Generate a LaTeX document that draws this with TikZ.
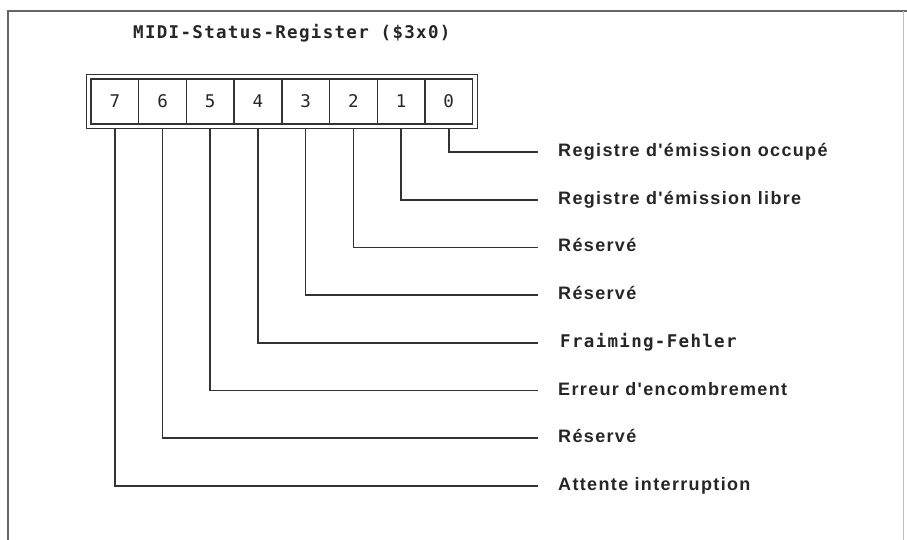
\documentclass[tikz,border=0pt]{standalone}
\usepackage{fontspec}
\usetikzlibrary{fit}
\setmainfont{Liberation Sans}
\newfontfamily\labelfont{Liberation Sans}[LetterSpace=7.5]
\newfontfamily\dosfont{DejaVu Sans Mono}[LetterSpace=7.5]

\tikzset{
  wire/.style={line width=1.6pt, draw=black!80},
  bitcell/.style={draw=black!80, line width=1.4pt, minimum width=47.7pt,
    minimum height=45pt, inner sep=0pt, text=black!85,
    font=\dosfont\fontsize{17.5}{17.5}\selectfont},
  regframe/.style={draw=black!80, line width=1.4pt, inner sep=4pt},
  bitlabel/.style={anchor=west, inner sep=0pt, text height=12pt, text depth=3pt,
    font=\labelfont\bfseries\fontsize{18}{18}\selectfont, text=black!85},
  monolabel/.style={bitlabel, font=\dosfont\bfseries\fontsize{17.5}{17.5}\selectfont},
  titletext/.style={anchor=base west, inner sep=0pt, text=black!85,
    font=\dosfont\bfseries\fontsize{17.5}{17.5}\selectfont},
  pageframe/.style={draw=black!60, line width=1.4pt},
}

\begin{document}
\begin{tikzpicture}[x=1pt, y=-1pt]
  \useasboundingbox[fill=white] (0,0) rectangle (907,539);

  % page frame (open at the bottom)
  \draw[pageframe] (8,545) -- (8,11) -- (912,11);
  \draw[draw=black!25, line width=1pt] (903,11) -- (903,545);

  % title
  \node[titletext] (title) at (133,38) {MIDI-Status-Register (\$3x0)};

  % the eight bit cells, bit 7 on the left
  \foreach \i in {0,...,7} {
    \node[bitcell] (c\i) at ({114.85+47.7*(7-\i)},101.5) {\i};
  }
  \node[regframe, fit=(c7)(c0)] (reg) {};

  % bit descriptions
  \node[bitlabel]  (l0) at (558,152)   {Registre d'émission occupé};
  \node[bitlabel]  (l1) at (558,199.7) {Registre d'émission libre};
  \node[bitlabel]  (l2) at (558,247.4) {Réservé};
  \node[bitlabel]  (l3) at (558,295.1) {Réservé};
  \node[monolabel] (l4) at (560,342.8) {Fraiming-Fehler};
  \node[bitlabel]  (l5) at (558,390.5) {Erreur d'encombrement};
  \node[bitlabel]  (l6) at (558,438.2) {Réservé};
  \node[bitlabel]  (l7) at (558,485.9) {Attente interruption};

  % leads from each bit to its description
  \foreach \i in {0,...,7} {
    \coordinate (e\i) at (538,0 |- l\i.west);
    \draw[wire] (c\i |- reg.south) |- (e\i);
  }
\end{tikzpicture}
\end{document}
